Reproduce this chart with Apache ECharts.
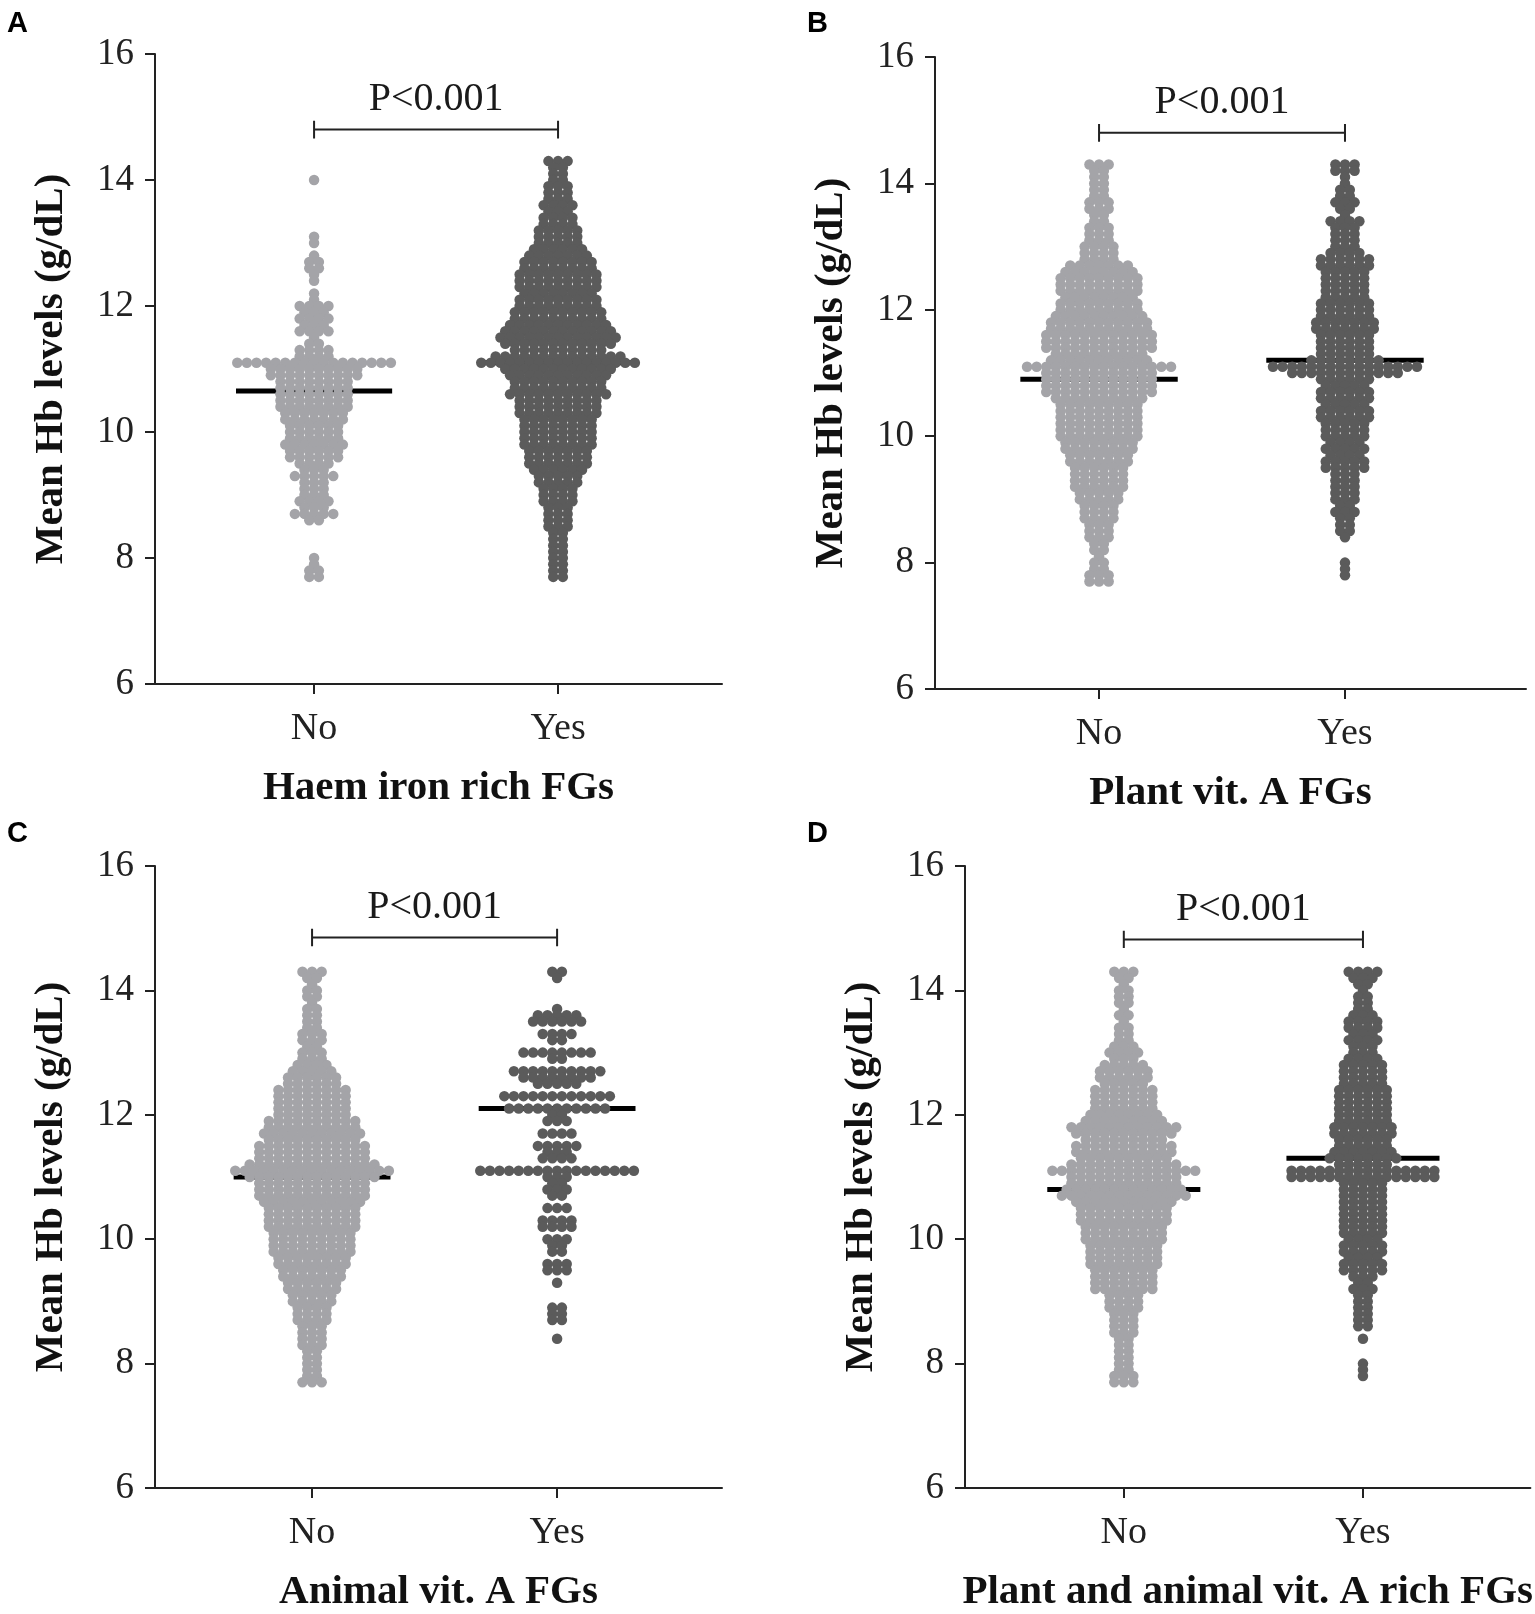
<!DOCTYPE html>
<html>
<head>
<meta charset="utf-8">
<script src="https://cdn.jsdelivr.net/npm/echarts@6/dist/echarts.min.js"></script>
<style>
  html, body { margin: 0; background: #fff; }
  #main { width: 1535px; height: 1614px; }
</style>
</head>
<body>
<div id="main"></div>
<script>
// categories and labels
const groupNames = ['No', 'Yes']
const panelLetters = ['A', 'B', 'C', 'D']
const panelTitles = ['Haem iron rich FGs', 'Plant vit. A FGs', 'Animal vit. A FGs', 'Plant and animal vit. A rich FGs']
const pLabels = ['P<0.001', 'P<0.001', 'P<0.001', 'P<0.001']
const yTitle = 'Mean Hb levels (g/dL)'

const haemNo = [[14.0,1],[13.1,1],[13.0,1],[12.8,1],[12.7,2],[12.6,2],[12.5,1],[12.4,1],[12.2,1],[12.1,1],[12.0,4],[11.9,3],[11.8,4],[11.7,3],[11.6,4],[11.5,1],[11.4,2],[11.3,4],[11.2,4],[11.1,17],[11.0,10],[10.9,10],[10.8,8],[10.7,8],[10.6,8],[10.5,8],[10.4,8],[10.3,7],[10.2,7],[10.1,6],[10.0,6],[9.9,6],[9.8,7],[9.7,6],[9.6,6],[9.5,4],[9.4,3],[9.3,5],[9.2,3],[9.1,3],[9.0,3],[8.9,4],[8.8,3],[8.7,5],[8.6,2],[8.0,1],[7.9,1],[7.8,2],[7.7,2]]
const haemYes = [[14.3,3],[14.2,2],[14.1,2],[14.0,2],[13.9,3],[13.8,3],[13.7,3],[13.6,4],[13.5,3],[13.4,4],[13.3,4],[13.2,5],[13.1,5],[13.0,5],[12.9,6],[12.8,7],[12.7,8],[12.6,8],[12.5,9],[12.4,9],[12.3,9],[12.2,8],[12.1,9],[12.0,9],[11.9,10],[11.8,10],[11.7,11],[11.6,12],[11.5,13],[11.4,12],[11.3,10],[11.2,14],[11.1,17],[11.0,12],[10.9,11],[10.8,10],[10.7,10],[10.6,11],[10.5,9],[10.4,9],[10.3,9],[10.2,8],[10.1,8],[10.0,8],[9.9,8],[9.8,8],[9.7,7],[9.6,7],[9.5,7],[9.4,6],[9.3,5],[9.2,5],[9.1,4],[9.0,4],[8.9,4],[8.8,3],[8.7,3],[8.6,3],[8.5,3],[8.4,2],[8.3,2],[8.2,2],[8.1,2],[8.0,2],[7.9,2],[7.8,2],[7.7,2]]
const plantNo = [[14.3,3],[14.2,2],[14.1,2],[14.0,2],[13.9,2],[13.8,2],[13.7,3],[13.6,3],[13.5,2],[13.4,2],[13.3,3],[13.2,3],[13.1,3],[13.0,4],[12.9,4],[12.8,4],[12.7,7],[12.6,8],[12.5,9],[12.4,9],[12.3,9],[12.2,8],[12.1,9],[12.0,9],[11.9,10],[11.8,11],[11.7,11],[11.6,12],[11.5,12],[11.4,12],[11.3,10],[11.2,11],[11.1,16],[11.0,12],[10.9,12],[10.8,12],[10.7,12],[10.6,10],[10.5,9],[10.4,9],[10.3,9],[10.2,9],[10.1,9],[10.0,9],[9.9,8],[9.8,8],[9.7,7],[9.6,7],[9.5,6],[9.4,6],[9.3,6],[9.2,6],[9.1,5],[9.0,5],[8.9,4],[8.8,4],[8.7,4],[8.6,3],[8.5,3],[8.4,3],[8.3,2],[8.2,2],[8.1,1],[8.0,2],[7.9,2],[7.8,3],[7.7,3]]
const plantYes = [[14.3,3],[14.2,3],[14.1,1],[14.0,1],[13.9,2],[13.8,2],[13.7,3],[13.6,2],[13.5,1],[13.4,4],[13.3,3],[13.2,3],[13.1,3],[13.0,3],[12.9,4],[12.8,6],[12.7,6],[12.6,5],[12.5,5],[12.4,5],[12.3,5],[12.2,5],[12.1,6],[12.0,6],[11.9,6],[11.8,7],[11.7,7],[11.6,6],[11.5,6],[11.4,6],[11.3,6],[11.2,8],[11.1,16],[11.0,12],[10.9,6],[10.8,5],[10.7,6],[10.6,6],[10.5,5],[10.4,6],[10.3,6],[10.2,5],[10.1,5],[10.0,5],[9.9,4],[9.8,5],[9.7,4],[9.6,5],[9.5,5],[9.4,3],[9.3,3],[9.2,3],[9.1,3],[9.0,3],[8.9,2],[8.8,3],[8.7,2],[8.6,2],[8.5,2],[8.4,1],[8.0,1],[7.9,1],[7.8,1]]
const animalNo = [[14.3,3],[14.2,2],[14.1,1],[14.0,2],[13.9,2],[13.8,1],[13.7,2],[13.6,2],[13.5,2],[13.4,2],[13.3,3],[13.2,3],[13.1,2],[13.0,3],[12.9,3],[12.8,4],[12.7,5],[12.6,6],[12.5,6],[12.4,8],[12.3,8],[12.2,8],[12.1,8],[12.0,8],[11.9,10],[11.8,10],[11.7,11],[11.6,10],[11.5,12],[11.4,12],[11.3,12],[11.2,14],[11.1,17],[11.0,14],[10.9,12],[10.8,12],[10.7,12],[10.6,11],[10.5,10],[10.4,10],[10.3,10],[10.2,10],[10.1,9],[10.0,9],[9.9,9],[9.8,9],[9.7,8],[9.6,8],[9.5,7],[9.4,7],[9.3,6],[9.2,6],[9.1,5],[9.0,5],[8.9,4],[8.8,4],[8.7,4],[8.6,3],[8.5,3],[8.4,3],[8.3,3],[8.2,2],[8.1,2],[8.0,2],[7.9,2],[7.8,2],[7.7,3]]
const animalYes = [[14.3,2],[14.2,1],[13.7,1],[13.6,5],[13.5,6],[13.3,4],[13.2,2],[13.0,8],[12.9,2],[12.7,10],[12.6,8],[12.5,5],[12.3,12],[12.1,11],[12.0,2],[11.9,3],[11.7,4],[11.5,5],[11.4,3],[11.3,4],[11.1,17],[11.0,3],[10.9,2],[10.8,3],[10.7,2],[10.5,3],[10.3,4],[10.2,4],[10.0,3],[9.9,2],[9.8,2],[9.6,3],[9.5,3],[9.3,1],[8.9,2],[8.8,2],[8.7,2],[8.4,1]]
const mixNo = [[14.3,3],[14.2,2],[14.1,1],[14.0,2],[13.9,2],[13.8,2],[13.7,1],[13.6,2],[13.5,1],[13.4,2],[13.3,2],[13.2,2],[13.1,3],[13.0,4],[12.9,3],[12.8,5],[12.7,6],[12.6,6],[12.5,5],[12.4,7],[12.3,7],[12.2,7],[12.1,7],[12.0,8],[11.9,9],[11.8,12],[11.7,11],[11.6,9],[11.5,11],[11.4,11],[11.3,10],[11.2,12],[11.1,16],[11.0,12],[10.9,12],[10.8,13],[10.7,14],[10.6,11],[10.5,10],[10.4,10],[10.3,10],[10.2,9],[10.1,9],[10.0,9],[9.9,8],[9.8,8],[9.7,8],[9.6,8],[9.5,7],[9.4,7],[9.3,7],[9.2,7],[9.1,4],[9.0,4],[8.9,4],[8.8,3],[8.7,3],[8.6,3],[8.5,3],[8.4,2],[8.3,2],[8.2,2],[8.1,2],[8.0,2],[7.9,2],[7.8,3],[7.7,3]]
const mixYes = [[14.3,4],[14.2,3],[14.1,2],[14.0,1],[13.9,2],[13.8,2],[13.7,2],[13.6,3],[13.5,4],[13.4,4],[13.3,3],[13.2,4],[13.1,3],[13.0,3],[12.9,4],[12.8,5],[12.7,5],[12.6,5],[12.5,5],[12.4,6],[12.3,6],[12.2,6],[12.1,6],[12.0,6],[11.9,6],[11.8,7],[11.7,7],[11.6,6],[11.5,6],[11.4,7],[11.3,8],[11.2,6],[11.1,16],[11.0,16],[10.9,5],[10.8,5],[10.7,5],[10.6,5],[10.5,5],[10.4,5],[10.3,5],[10.2,5],[10.1,5],[10.0,4],[9.9,5],[9.8,5],[9.7,4],[9.6,5],[9.5,5],[9.4,3],[9.3,2],[9.2,3],[9.1,2],[9.0,2],[8.9,2],[8.8,2],[8.7,2],[8.6,2],[8.4,1],[8.0,1],[7.9,1],[7.8,1]]

// group means (No, Yes)
const meansHaem = [10.65, 11.1]
const meansPlant = [10.9, 11.2]
const meansAnimal = [11.0, 12.1]
const meansMix = [10.8, 11.3]

// y level of the significance bracket and of its label
const bracketLevels = [14.8, 14.8, 14.85, 14.82]
const pLevels = [15.28, 15.28, 15.33, 15.3]

const panels = [
  { left: 155, top: 54, width: 567, height: 630, xMin: 0.348, xMax: 2.672, groups: [haemNo, haemYes], means: meansHaem },
  { left: 935, top: 57, width: 591, height: 632, xMin: 0.333, xMax: 2.736, groups: [plantNo, plantYes], means: meansPlant },
  { left: 155, top: 866, width: 567, height: 626, xMin: 0.359, xMax: 2.673, groups: [animalNo, animalYes], means: meansAnimal },
  { left: 965, top: 866, width: 570, height: 629, xMin: 0.336, xMax: 2.70, groups: [mixNo, mixYes], means: meansMix }
]
const letterPos = [[7, 9], [807, 9], [7, 819], [807, 819]]

const colors = ['#a4a4a8', '#5b5b5b']
const serif = '"Liberation Serif", "DejaVu Serif", serif'
const dotPx = 9.6
const meanHalf = 0.32

// lay out one beeswarm column: dots with the same value sit side by side
function swarm(levels, center, step) {
  const pts = []
  levels.forEach(([v, n]) => {
    for (let i = 0; i < n; i++) pts.push([center + (i - (n - 1) / 2) * step, v])
  })
  return pts
}

const chart = echarts.init(document.getElementById('main'), null, { renderer: 'canvas' })

const title = [], grid = [], xAxis = [], yAxis = [], series = []

panels.forEach((p, k) => {
  title.push({
    text: panelLetters[k], left: letterPos[k][0], top: letterPos[k][1], padding: 0,
    textStyle: { fontFamily: '"Liberation Sans", Arial, sans-serif', fontWeight: 'bold', fontSize: 29, color: '#000' }
  })
  grid.push({ left: p.left, top: p.top, width: p.width, height: p.height })
  xAxis.push({
    type: 'value', gridIndex: k, min: p.xMin, max: p.xMax,
    name: panelTitles[k], nameLocation: 'middle', nameGap: 84,
    nameTextStyle: { fontFamily: serif, fontWeight: 'bold', fontSize: 41, color: '#111' },
    axisLine: { lineStyle: { color: '#222', width: 2 } },
    axisTick: { show: true, length: 10, lineStyle: { color: '#222', width: 2 }, customValues: [1, 2] },
    axisLabel: {
      customValues: [1, 2], margin: 26, fontFamily: serif, fontSize: 38, color: '#222',
      formatter: v => groupNames[Math.round(v) - 1]
    },
    splitLine: { show: false }
  })
  yAxis.push({
    type: 'value', gridIndex: k, min: 6, max: 16, interval: 2,
    name: yTitle, nameLocation: 'middle', nameGap: 83,
    nameTextStyle: { fontFamily: serif, fontWeight: 'bold', fontSize: 41, color: '#111' },
    axisLine: { show: true, lineStyle: { color: '#222', width: 2 } },
    axisTick: { show: true, length: 10, lineStyle: { color: '#222', width: 2 } },
    axisLabel: { margin: 21, fontFamily: serif, fontSize: 37, color: '#222' },
    splitLine: { show: false }
  })

  const step = dotPx * (p.xMax - p.xMin) / p.width

  p.means.forEach((m, g) => {
    series.push({
      type: 'line', xAxisIndex: k, yAxisIndex: k, z: 1, silent: true, symbol: 'none',
      lineStyle: { color: '#000', width: 5 },
      data: [[g + 1 - meanHalf, m], [g + 1 + meanHalf, m]]
    })
  })

  p.groups.forEach((levels, g) => {
    series.push({
      type: 'scatter', xAxisIndex: k, yAxisIndex: k, z: 3, silent: true,
      symbolSize: 10.5, itemStyle: { color: colors[g], opacity: 1 },
      data: swarm(levels, g + 1, step)
    })
  })

  const b = bracketLevels[k], t = 0.14
  series.push({
    type: 'line', xAxisIndex: k, yAxisIndex: k, silent: true, symbol: 'none',
    lineStyle: { color: '#222', width: 2 },
    data: [[1, b - t], [1, b + t], [1, b], [2, b], [2, b + t], [2, b - t]]
  })
})

chart.setOption({
  animation: false,
  backgroundColor: '#fff',
  title, grid, xAxis, yAxis, series
})

// P labels placed through each panel's own scales
const graphic = panels.map((p, k) => {
  const [px, py] = chart.convertToPixel({ gridIndex: k }, [1.5, pLevels[k]])
  return {
    type: 'text', x: px, y: py, silent: true,
    style: { text: pLabels[k], fontFamily: serif, fontSize: 40, fill: '#1a1a1a', align: 'center', verticalAlign: 'middle' }
  }
})
chart.setOption({ graphic })
</script>
</body>
</html>
